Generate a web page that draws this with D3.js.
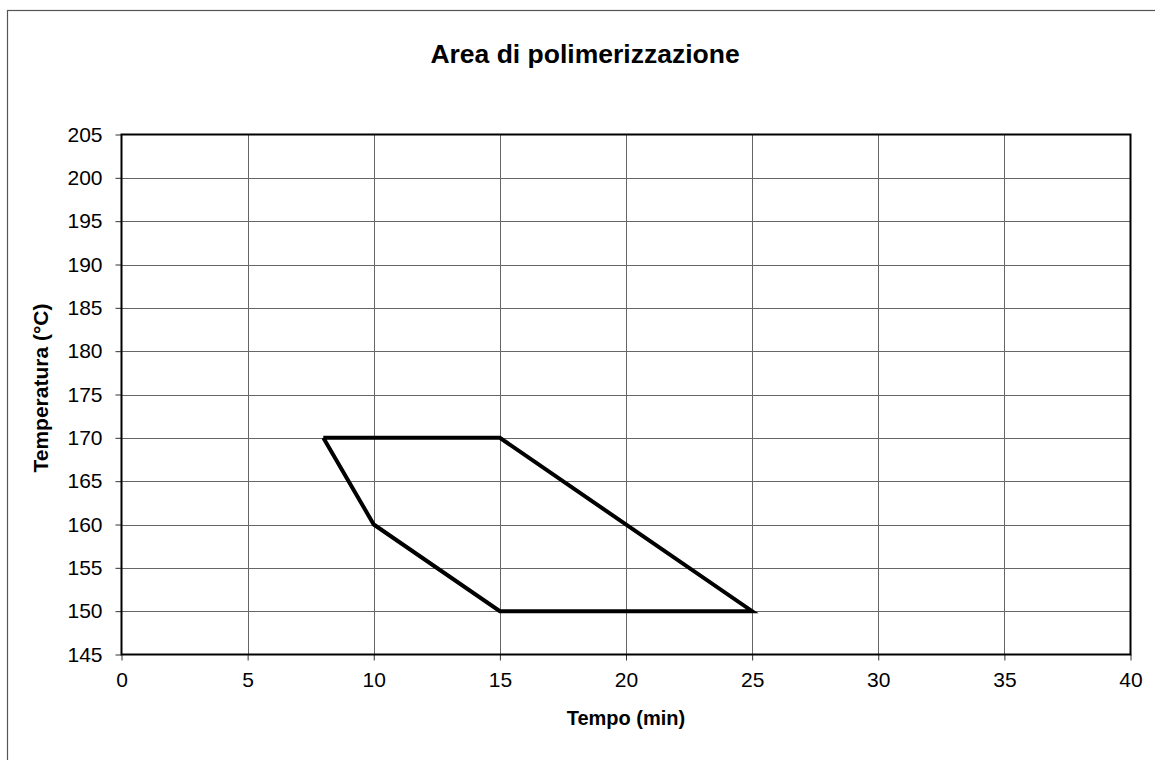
<!DOCTYPE html>
<html>
<head>
<meta charset="utf-8">
<script src="https://cdn.jsdelivr.net/npm/d3@7"></script>
<style>
  body { margin: 0; background: #fff; }
  svg { display: block; font-family: "Liberation Sans", Arial, sans-serif; }
</style>
</head>
<body>
<svg width="1155" height="760"></svg>
<script>
// vertici dell'area (tempo in min, temperatura in °C)
let tempo = [8, 15, 25, 15, 10, 8];
let temperatura = [170, 170, 150, 150, 160, 170];

let xTicks = [0, 5, 10, 15, 20, 25, 30, 35, 40];
let yTicks = [145, 150, 155, 160, 165, 170, 175, 180, 185, 190, 195, 200, 205];

let $svg = d3.select("svg");

let m_sx = 121.5, m_dx = 1130.5, m_su = 134.5, m_giu = 654.5;

// cornice esterna
$svg.append("rect")
  .attr("x", 7.5).attr("y", 10.5)
  .attr("width", 1200).attr("height", 800)
  .attr("fill", "none")
  .attr("stroke", "#555")
  .attr("stroke-width", 1.2);

let x = d3.scaleLinear().domain([0, 40]).range([m_sx, m_dx]);
let y = d3.scaleLinear().domain([145, 205]).range([m_giu, m_su]);

// griglia
$svg.append("g")
  .selectAll("line.vx")
  .data(xTicks.slice(1, -1))
  .enter().append("line")
  .attr("x1", d => Math.round(x(d)) + 0.5).attr("x2", d => Math.round(x(d)) + 0.5)
  .attr("y1", m_su).attr("y2", m_giu)
  .attr("stroke", "#666").attr("stroke-width", 1);

$svg.append("g")
  .selectAll("line.hy")
  .data(yTicks.slice(1, -1))
  .enter().append("line")
  .attr("y1", d => Math.round(y(d)) + 0.5).attr("y2", d => Math.round(y(d)) + 0.5)
  .attr("x1", m_sx).attr("x2", m_dx)
  .attr("stroke", "#666").attr("stroke-width", 1);

// assi
let xAxis = d3.axisBottom(x).tickValues(xTicks).tickSize(6).tickPadding(12);
let yAxis = d3.axisLeft(y).tickValues(yTicks).tickSize(6).tickPadding(13);

let gx = $svg.append("g").attr("transform", `translate(0,${m_giu})`).call(xAxis);
let gy = $svg.append("g").attr("transform", `translate(${m_sx},0)`).call(yAxis);

[gx, gy].forEach(g => {
  g.select(".domain").remove();
  g.attr("font-size", 21).attr("font-family", "Liberation Sans, Arial, sans-serif");
  g.selectAll(".tick line").attr("stroke", "#333");
  g.selectAll(".tick text").attr("fill", "#000");
});

// bordo area del grafico
$svg.append("rect")
  .attr("x", m_sx).attr("y", m_su)
  .attr("width", m_dx - m_sx).attr("height", m_giu - m_su)
  .attr("fill", "none")
  .attr("stroke", "#000")
  .attr("stroke-width", 2);

// poligono
let punti = tempo.map((t, i) => [t, temperatura[i]]);
let linea = d3.line().x(d => x(d[0])).y(d => y(d[1]));

$svg.append("path")
  .datum(punti)
  .attr("d", linea)
  .attr("fill", "none")
  .attr("stroke", "#000")
  .attr("stroke-width", 4)
  .attr("stroke-linejoin", "miter");

// titoli
$svg.append("text")
  .attr("x", 585).attr("y", 63)
  .attr("text-anchor", "middle")
  .attr("font-size", 26.5).attr("font-weight", "bold")
  .text("Area di polimerizzazione");

$svg.append("text")
  .attr("x", 626).attr("y", 725)
  .attr("text-anchor", "middle")
  .attr("font-size", 20).attr("font-weight", "bold")
  .text("Tempo (min)");

$svg.append("text")
  .attr("transform", "translate(48,388) rotate(-90)")
  .attr("text-anchor", "middle")
  .attr("font-size", 21).attr("font-weight", "bold")
  .text("Temperatura (°C)");
</script>
</body>
</html>
